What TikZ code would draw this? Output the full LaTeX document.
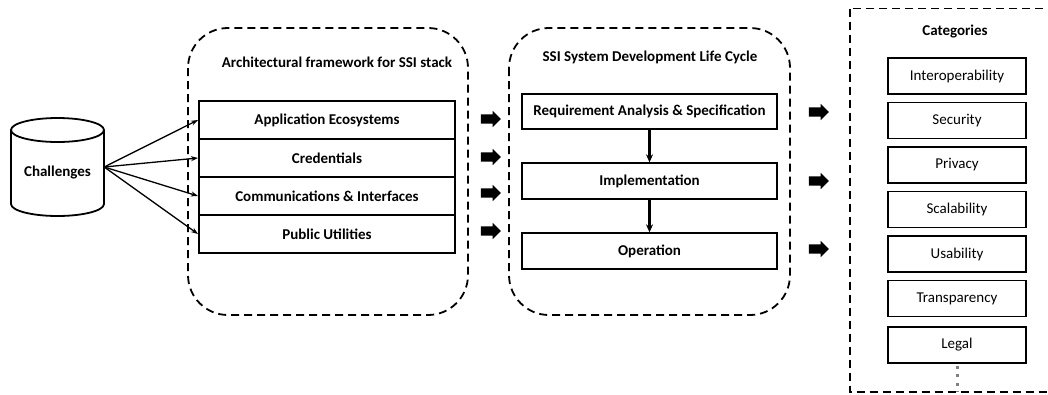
\documentclass[tikz,border=0pt]{standalone}
\usepackage{fontspec}
\setmainfont{Carlito}
\usetikzlibrary{arrows.meta,shapes.arrows}
\tikzset{
  frame/.style={draw=black, line width=1.8pt, dash pattern=on 8pt off 5pt},
  stackbox/.style={draw=black, line width=2pt, minimum width=256pt, minimum height=38pt,
    inner sep=0pt, font=\bfseries\fontsize{15}{17}\selectfont},
  lifebox/.style={draw=black, line width=1.8pt, minimum width=255pt, minimum height=35.5pt,
    inner sep=0pt, font=\bfseries\fontsize{15}{17}\selectfont},
  catbox/.style={draw=black, line width=1.8pt, minimum width=138pt, minimum height=36pt,
    inner sep=0pt, font=\fontsize{15}{17}\selectfont},
  title/.style={font=\bfseries\fontsize{15}{17}\selectfont, inner sep=0pt},
  fatarrow/.style={single arrow, fill=black, draw=none, minimum height=20pt,
    text height=4.5pt, text depth=4.5pt, inner xsep=0pt, inner ysep=0pt,
    single arrow head extend=3.5pt},
  feed/.style={line width=1.3pt, -{Stealth[length=7pt,width=5pt]}},
  flow/.style={line width=2.2pt, -{Stealth[length=8pt,width=7pt]}}
}
\begin{document}
\begin{tikzpicture}[x=1pt,y=-1pt]
\useasboundingbox (0,0) rectangle (1048,394);
\clip (0,0) rectangle (1048,394);

% challenges cylinder
\draw[line width=1.8pt] (11,130) -- (11,204)
  arc[start angle=180, end angle=360, x radius=46.5pt, y radius=12pt] -- (104,130);
\draw[line width=1.8pt] (57.5,130) ellipse [x radius=46.5pt, y radius=12pt];
\node[minimum width=93pt, minimum height=98pt, inner sep=0pt] (ch) at (57.5,167) {};
\node[font=\bfseries\fontsize{15}{17}\selectfont] (chtext) at (57.5,173) {Challenges};

% architectural framework
\draw[frame, rounded corners=40pt] (188,28) rectangle (468,315);
\node[title] (archtitle) at (337,62) {Architectural framework for SSI stack};
\node[stackbox] (app) at (327,120) {Application Ecosystems};
\node[stackbox] (cred) at (327,158) {Credentials};
\node[stackbox] (comm) at (327,196) {Communications \& Interfaces};
\node[stackbox] (pub) at (327,234) {Public Utilities};

\foreach \t in {app,cred,comm,pub}
  \draw[feed] (ch.east) -- (\t.west);

\node[fatarrow] (a1) at (488.5,119) {};
\node[fatarrow] (a2) at (488.5,157) {};
\node[fatarrow] (a3) at (488.5,193) {};
\node[fatarrow] (a4) at (488.5,231) {};

% development life cycle
\draw[frame, rounded corners=40pt] (509,28) rectangle (790,315);
\node[title] (sdlctitle) at (650,57) {SSI System Development Life Cycle};
\node[lifebox] (req) at (649.5,111.5) {Requirement Analysis \& Specification};
\node[lifebox] (impl) at (649.5,181) {Implementation};
\node[lifebox] (op) at (649.5,251) {Operation};
\draw[flow] (req) -- (impl);
\draw[flow] (impl) -- (op);

\node[fatarrow] (b1) at (816.5,112) {};
\node[fatarrow] (b2) at (816.5,181) {};
\node[fatarrow] (b3) at (816.5,249) {};

% categories
\draw[frame] (850,8.5) rectangle (1070,392);
\node[title] (cattitle) at (955,32) {Categories};
\node[catbox] (c1) at (957,76) {Interoperability};
\node[catbox] (c2) at (957,120.5) {Security};
\node[catbox] (c3) at (957,165) {Privacy};
\node[catbox] (c4) at (957,209.5) {Scalability};
\node[catbox] (c5) at (957,254) {Usability};
\node[catbox] (c6) at (957,298.5) {Transparency};
\node[catbox] (c7) at (957,345) {Legal};
\coordinate (more) at (957,392);
\draw[gray, line width=3pt, dash pattern=on 3pt off 5.5pt] ([yshift=-2pt]c7.south) -- (more);
\end{tikzpicture}
\end{document}
